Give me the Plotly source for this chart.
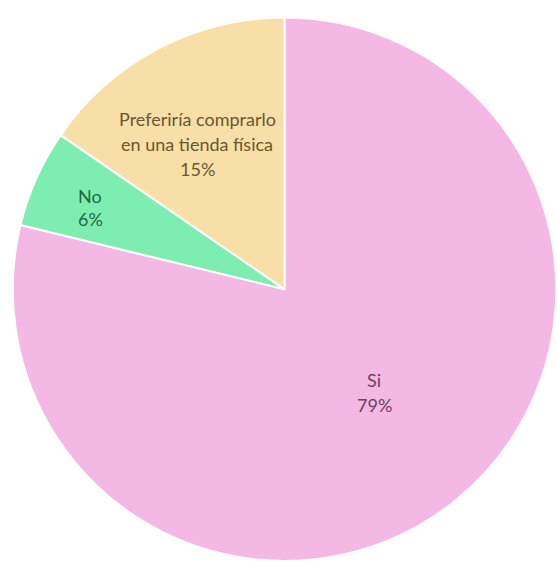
import plotly.graph_objects as go

labels = ["Si", "No", "Preferiría comprarlo en una tienda física"]
label_lines = [["Si"], ["No"], ["Preferiría comprarlo", "en una tienda física"]]
values = [78.8, 5.8, 15.4]
colors = ["#F3B9E4", "#7DEDB1", "#F8DFA8"]
text_colors = ["#6E3F63", "#1F6A45", "#6A5630"]
# label anchor centres (pixels from left/top) and line spacing
label_pos = [(374, 380), (90, 196), (197, 119)]
line_gap = [25, 23, 25]

W, H = 557, 561

fig = go.Figure(go.Pie(
    labels=labels,
    values=values,
    sort=False,
    direction="clockwise",
    rotation=0,
    marker=dict(colors=colors, line=dict(color="white", width=2)),
    textinfo="none",
    hoverinfo="label+percent",
    showlegend=False,
    domain=dict(x=[12 / W, 1.0], y=[0.0, 1 - 17.5 / H]),
))

total = sum(values)
annotations = []
for lines, v, c, (px, py), gap in zip(label_lines, values, text_colors, label_pos, line_gap):
    all_lines = lines + [f"{round(100 * v / total)}%"]
    for i, t in enumerate(all_lines):
        annotations.append(dict(
            x=px / W, y=1 - (py + i * gap) / H, xref="paper", yref="paper",
            text=t, showarrow=False, xanchor="center", yanchor="middle",
            font=dict(family="Lato, Open Sans, sans-serif", size=18, color=c),
        ))

fig.update_layout(
    width=W, height=H,
    margin=dict(l=0, r=0, t=0, b=0),
    paper_bgcolor="white",
    plot_bgcolor="white",
    annotations=annotations,
)

fig.write_html(
    "out.html",
    config={"displayModeBar": False},
    post_script="document.body.style.margin='0';document.body.style.overflow='hidden';",
)
